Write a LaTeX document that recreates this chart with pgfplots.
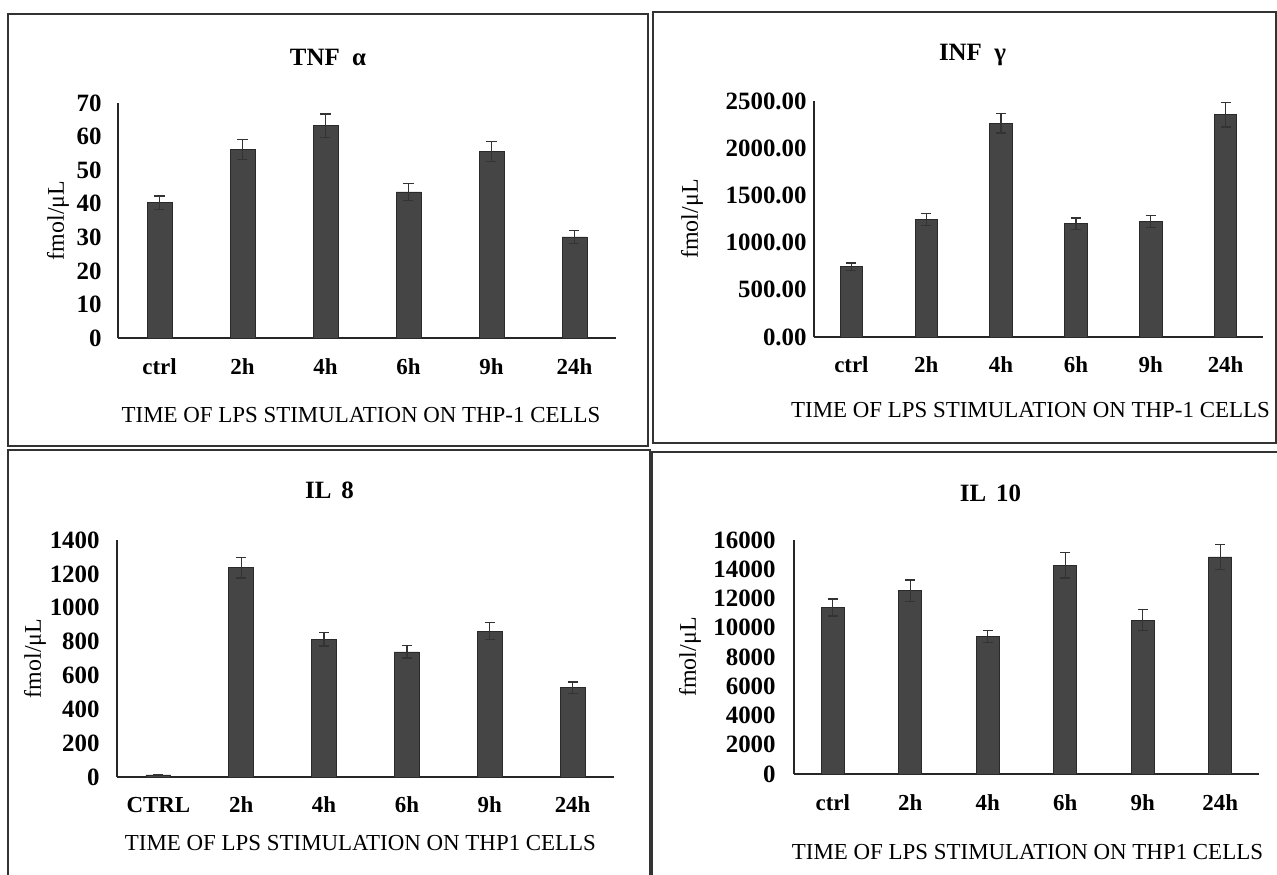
\documentclass[border=0pt]{standalone}
\usepackage{fontspec}
\setmainfont{Liberation Serif}
\usepackage{pgfplots}
\pgfplotsset{compat=1.18}
\usepackage{pgfplotstable}

\definecolor{barfill}{HTML}{454545}
\definecolor{baredge}{HTML}{2A2A2A}
\definecolor{framec}{HTML}{333333}

\pgfplotstableread{
x y e
0 40.3 2.0
1 56.2 3.0
2 63.2 3.5
3 43.5 2.5
4 55.5 3.0
5 30.1 2.0
}\tnf
\pgfplotstableread{
x y e
0 743 40
1 1246 65
2 2264 105
3 1200 60
4 1225 62
5 2354 130
}\inf
\pgfplotstableread{
x y e
0 12 3
1 1236 60
2 813 40
3 739 37
4 862 50
5 527 35
}\ileight
\pgfplotstableread{
x y e
0 11386 570
1 12545 730
2 9386 410
3 14273 860
4 10523 730
5 14841 860
}\ilten

\pgfplotsset{
 panel/.style={
  scale only axis,
  anchor=south west,
  axis x line*=bottom, axis y line*=left,
  axis line style={line width=1bp, black!85},
  major tick length=0pt,
  xmin=-0.5, xmax=5.5, ymin=0,
  xtick={0,...,5},
  enlargelimits=false,
  scaled y ticks=false,
  ybar, bar width=0.3, bar shift=0pt,
  /pgf/number format/assume math mode=true,
  /pgf/number format/1000 sep={},
  xticklabel style={font=\fontsize{11.5}{13}\selectfont\bfseries},
  yticklabel style={font=\fontsize{12.5}{14}\selectfont\bfseries},
  every x tick label/.append style={anchor=center},
  every y tick label/.append style={anchor=east, inner sep=0pt},
  every axis title/.style={at={(rel axis cs:0.5,1)}, anchor=center, font=\fontsize{12.5}{14}\selectfont\bfseries},
  every axis x label/.style={at={(rel axis cs:0.5,0)}, anchor=center, font=\fontsize{11.5}{13}\selectfont},
  every axis y label/.style={anchor=center, rotate=90, font=\fontsize{12}{14}\selectfont},
 },
 bars/.style={fill=barfill, draw=baredge, line width=0.4bp,
   error bars/.cd, y dir=both, y explicit,
   error bar style={line width=0.7bp, color=black!80},
   error mark options={rotate=90, mark size=2.5bp, line width=0.7bp, black!80}},
}

\begin{document}
\begin{tikzpicture}
\useasboundingbox (0,0) rectangle (638.5bp,-437.5bp);
\fill[white] (0,0) rectangle (638.5bp,-437.5bp);

% ---------- TNF alpha ----------
\begin{axis}[panel,
  at={(59bp,-169bp)}, width=249bp, height=117.5bp,
  ymax=70, ytick={0,10,...,70},
  xticklabels={ctrl,2h,4h,6h,9h,24h},
  xticklabel style={yshift=-14.5bp},
  yticklabel style={xshift=-8bp},
  title={TNF\hspace{0.5em}α},
  title style={xshift=-19.5bp, yshift=23bp},
  xlabel={TIME OF LPS STIMULATION ON THP-1 CELLS},
  xlabel style={xshift=-3bp, yshift=-38.5bp},
  ylabel={fmol/μL},
  ylabel style={at={([xshift=-30bp]rel axis cs:0,0.5)}},
]
\addplot[bars] table[x=x, y=y, y error=e] {\tnf};
\end{axis}

% ---------- INF gamma ----------
\begin{axis}[panel,
  at={(407bp,-168.5bp)}, width=224.5bp, height=118bp,
  ymax=2500, ytick={0,500,...,2500},
  yticklabel style={/pgf/number format/fixed, /pgf/number format/fixed zerofill, /pgf/number format/precision=2, xshift=-3.5bp},
  xticklabels={ctrl,2h,4h,6h,9h,24h},
  xticklabel style={yshift=-14bp},
  title={INF\hspace{0.5em}γ},
  title style={xshift=-33bp, yshift=23bp},
  xlabel={TIME OF LPS STIMULATION ON THP-1 CELLS},
  xlabel style={xshift=-4bp, yshift=-36.5bp},
  ylabel={fmol/μL},
  ylabel style={at={([xshift=-61bp]rel axis cs:0,0.5)}},
]
\addplot[bars] table[x=x, y=y, y error=e] {\inf};
\end{axis}

% ---------- IL 8 ----------
\begin{axis}[panel,
  at={(58.5bp,-388.5bp)}, width=248.5bp, height=118.5bp,
  ymax=1400, ytick={0,200,...,1400},
  xticklabels={CTRL,2h,4h,6h,9h,24h},
  xticklabel style={yshift=-14bp},
  yticklabel style={xshift=-8.5bp},
  title={IL\hspace{0.4em}8},
  title style={xshift=-18bp, yshift=25bp},
  xlabel={TIME OF LPS STIMULATION ON THP1 CELLS},
  xlabel style={xshift=-2.5bp, yshift=-33bp},
  ylabel={fmol/μL},
  ylabel style={at={([xshift=-41bp]rel axis cs:0,0.5)}},
]
\addplot[bars] table[x=x, y=y, y error=e] {\ileight};
\end{axis}

% ---------- IL 10 ----------
\begin{axis}[panel,
  at={(397bp,-387bp)}, width=232.5bp, height=117bp,
  ymax=16000, ytick={0,2000,...,16000},
  xticklabels={ctrl,2h,4h,6h,9h,24h},
  xticklabel style={yshift=-14.5bp},
  yticklabel style={xshift=-9bp},
  title={IL\hspace{0.4em}10},
  title style={xshift=-18bp, yshift=23.5bp},
  xlabel={TIME OF LPS STIMULATION ON THP1 CELLS},
  xlabel style={xshift=0.5bp, yshift=-39bp},
  ylabel={fmol/μL},
  ylabel style={at={([xshift=-52bp]rel axis cs:0,0.5)}},
]
\addplot[bars] table[x=x, y=y, y error=e] {\ilten};
\end{axis}

% ---------- panel frames ----------
\draw[framec, line width=1.1bp] (4bp,-7bp) rectangle (324bp,-223bp);
\draw[framec, line width=1.1bp] (326.5bp,-6bp) rectangle (638bp,-221.5bp);
\draw[framec, line width=1.1bp] (4bp,-225bp) rectangle (325bp,-441bp);
\draw[framec, line width=1.1bp] (326bp,-226bp) rectangle (641bp,-441bp);
\end{tikzpicture}
\end{document}
